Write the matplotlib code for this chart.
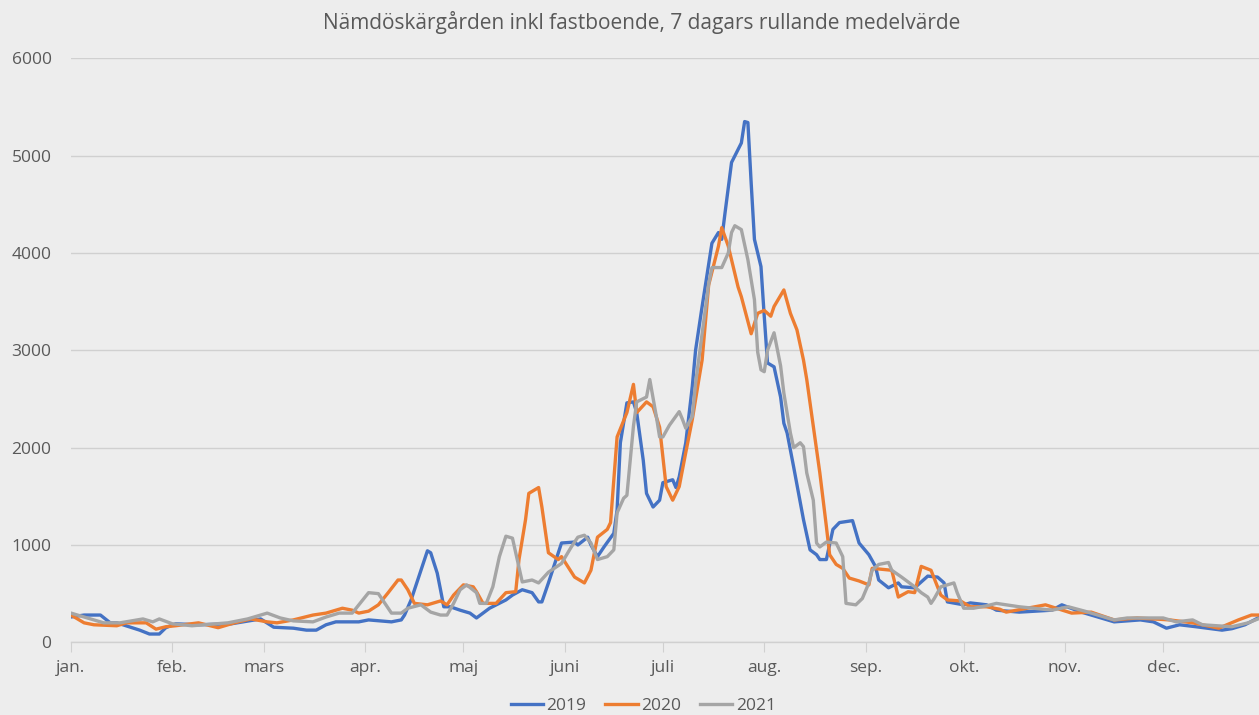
import numpy as np
import matplotlib.pyplot as plt

# day of year (0 = 1 jan) and 7-day rolling mean
days_2019 = [0, 4, 9, 12, 14, 21, 24, 27, 29, 32, 39, 49, 58, 62, 68, 72, 75, 78, 81, 88, 91, 98, 101,
             102, 104, 109, 110, 112, 113, 114, 116, 119, 122, 124, 128, 133, 135, 138, 140, 141, 143,
             144, 146, 150, 154, 155, 158, 159, 161, 163, 166, 167, 168, 170, 172, 173, 175, 176, 178,
             180, 181, 184, 185, 186, 188, 190, 191, 193, 196, 198, 199, 200, 202, 205, 206, 207, 208,
             209, 211, 212, 213, 215, 217, 218, 219, 221, 224, 226, 228, 229, 231, 233, 235, 239, 241,
             244, 246, 247, 250, 253, 254, 258, 262, 265, 267, 268, 273, 275, 280, 283, 290, 300, 303,
             309, 319, 327, 331, 335, 339, 344, 352, 355, 359, 363]
vals_2019 = [260, 280, 280, 200, 200, 125, 85, 85, 150, 190, 180, 190, 240, 155, 145, 125, 125, 180, 210,
             210, 230, 210, 230, 280, 435, 940, 920, 710, 540, 365, 365, 330, 300, 250, 350, 435, 485,
             540, 520, 510, 415, 415, 610, 1020, 1030, 1000, 1080, 1000, 880, 980, 1120, 1360, 2050,
             2460, 2470, 2360, 1870, 1530, 1390, 1460, 1640, 1670, 1590, 1700, 2050, 2630, 3000, 3450,
             4100, 4210, 4140, 4410, 4930, 5130, 5350, 5340, 4720, 4140, 3860, 3350, 2870, 2830, 2520,
             2250, 2150, 1800, 1260, 950, 900, 850, 850, 1160, 1230, 1250, 1020, 900, 780, 640, 560,
             610, 570, 560, 680, 670, 610, 415, 385, 405, 385, 330, 310, 330, 385, 310, 210, 230, 210,
             145, 180, 160, 125, 140, 180, 250]

days_2020 = [0, 4, 7, 14, 17, 23, 26, 29, 32, 39, 45, 50, 55, 60, 63, 68, 74, 78, 83, 86, 88, 91, 94, 97,
             100, 101, 103, 105, 109, 113, 115, 117, 120, 123, 124, 126, 130, 133, 136, 137, 139, 140,
             143, 144, 146, 149, 150, 154, 157, 159, 161, 164, 165, 167, 170, 172, 173, 176, 178, 180,
             182, 184, 186, 188, 190, 192, 193, 195, 198, 199, 201, 202, 204, 205, 208, 210, 212, 214,
             215, 218, 220, 222, 224, 225, 227, 229, 231, 232, 234, 236, 238, 241, 244, 245, 248, 251,
             253, 256, 258, 260, 263, 266, 268, 272, 275, 280, 284, 286, 298, 306, 312, 319, 326, 336,
             343, 351, 357, 361, 363]
vals_2020 = [280, 200, 180, 170, 200, 200, 135, 160, 170, 200, 150, 200, 240, 210, 200, 230, 280, 300,
             350, 330, 300, 320, 385, 510, 640, 640, 540, 400, 385, 425, 385, 485, 590, 570, 520, 400,
             400, 510, 520, 850, 1260, 1530, 1590, 1390, 920, 850, 880, 670, 610, 740, 1080, 1160, 1230,
             2110, 2360, 2650, 2360, 2470, 2420, 2210, 1600, 1460, 1600, 1950, 2290, 2700, 2900, 3670,
             4070, 4260, 4070, 3930, 3650, 3550, 3170, 3380, 3410, 3350, 3450, 3620, 3380, 3210, 2900,
             2700, 2220, 1740, 1190, 900, 800, 760, 660, 630, 590, 760, 750, 740, 465, 520, 510, 780,
             740, 485, 435, 425, 365, 365, 340, 310, 385, 300, 310, 230, 250, 230, 200, 145, 230, 280,
             280]

days_2021 = [0, 5, 10, 15, 22, 25, 27, 31, 37, 48, 54, 60, 64, 68, 74, 78, 82, 86, 91, 94, 96, 98, 101,
             103, 107, 110, 113, 115, 117, 119, 121, 124, 125, 127, 129, 131, 133, 135, 136, 138, 141,
             143, 146, 150, 153, 155, 157, 159, 161, 164, 166, 167, 169, 170, 172, 173, 176, 177, 179,
             180, 181, 183, 186, 187, 188, 190, 191, 195, 196, 199, 201, 202, 203, 205, 207, 209, 210,
             211, 212, 213, 215, 217, 218, 220, 221, 223, 224, 225, 227, 228, 229, 231, 234, 236, 237,
             240, 242, 244, 245, 247, 250, 251, 254, 258, 260, 262, 263, 264, 266, 268, 270, 271, 273,
             276, 280, 283, 286, 290, 300, 305, 310, 319, 323, 334, 338, 343, 346, 355, 360, 363]
vals_2021 = [300, 250, 200, 200, 240, 210, 240, 190, 170, 200, 240, 300, 250, 220, 210, 260, 300, 300,
             510, 500, 400, 300, 300, 350, 385, 310, 280, 280, 400, 540, 590, 510, 400, 400, 570, 880,
             1090, 1070, 920, 620, 640, 610, 720, 810, 980, 1080, 1100, 1020, 850, 880, 950, 1330, 1480,
             1510, 2220, 2470, 2520, 2700, 2320, 2110, 2110, 2230, 2370, 2290, 2200, 2320, 2660, 3680,
             3850, 3850, 4000, 4210, 4280, 4240, 3930, 3520, 2980, 2800, 2780, 3000, 3180, 2840, 2560,
             2150, 2000, 2050, 2010, 1740, 1460, 1020, 980, 1030, 1020, 880, 400, 385, 450, 610, 740,
             800, 820, 740, 670, 570, 510, 465, 400, 450, 570, 590, 610, 510, 350, 350, 375, 400, 385,
             365, 330, 365, 320, 230, 250, 250, 210, 230, 180, 160, 200, 240]

month_days = [0, 31, 59, 90, 120, 151, 181, 212, 243, 273, 304, 334]
month_labels = ['jan.', 'feb.', 'mars', 'apr.', 'maj', 'juni', 'juli', 'aug.', 'sep.', 'okt.',
                'nov.', 'dec.']

bg = '#EDEDED'
txt = '#595959'
grid = '#D0D0D0'

plt.rcParams['font.family'] = ['Open Sans', 'DejaVu Sans']

fig = plt.figure(figsize=(12.59, 7.15), dpi=100, facecolor=bg)
ax = fig.add_axes([71 / 1259, 72.7 / 715, 1 - 71 / 1259, 584 / 715])
ax.set_facecolor(bg)

ax.plot(days_2019, vals_2019, color='#4472C4', lw=2.4, label='2019', solid_joinstyle='round')
ax.plot(days_2020, vals_2020, color='#ED7D31', lw=2.4, label='2020', solid_joinstyle='round')
ax.plot(days_2021, vals_2021, color='#A5A5A5', lw=2.4, label='2021', solid_joinstyle='round')

ax.set_xlim(0, 363.3)
ax.set_ylim(0, 6000)
ax.set_yticks(np.arange(0, 6001, 1000))
ax.set_xticks(month_days)
ax.set_xticklabels(month_labels)
ax.grid(axis='y', color=grid, lw=1)
ax.set_axisbelow(True)

for s in ['top', 'right', 'left']:
    ax.spines[s].set_visible(False)
ax.spines['bottom'].set_color(grid)
ax.spines['bottom'].set_linewidth(1)
ax.tick_params(axis='y', length=0, pad=14, labelsize=12.5, labelcolor=txt)
ax.tick_params(axis='x', length=7, color=grid, pad=6, labelsize=12.5, labelcolor=txt)

fig.text(0.51, 0.969, 'Nämdöskärgården inkl fastboende, 7 dagars rullande medelvärde',
         ha='center', va='center', fontsize=15, color=txt)

fig.legend(loc='center', bbox_to_anchor=(0.511, 0.013), ncol=3, frameon=False,
           fontsize=12.5, labelcolor=txt, handlelength=1.85, columnspacing=1.1, handletextpad=0.2)

fig.savefig('out.png', dpi=100, facecolor=bg)
